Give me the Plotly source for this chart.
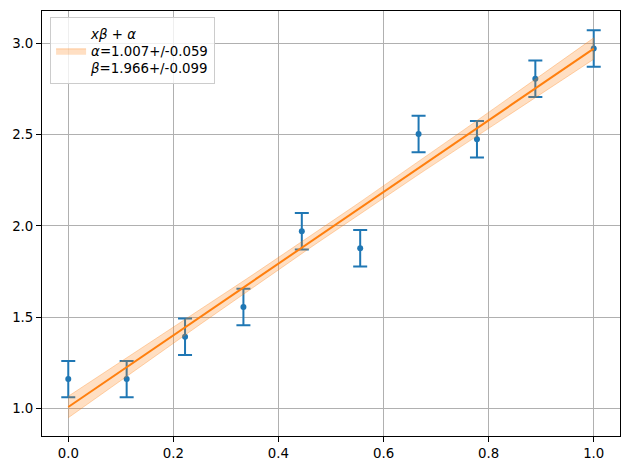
import numpy as np
import plotly.graph_objects as go

# data
x_data = [0.0, 1/9, 2/9, 3/9, 4/9, 5/9, 6/9, 7/9, 8/9, 1.0]
y_data = [1.160, 1.160, 1.392, 1.555, 1.971, 1.878, 2.504, 2.476, 2.808, 2.973]
y_err = [0.1] * 10

# fit parameters shown in the legend
alpha, alpha_err = 1.007, 0.059
beta, beta_err = 1.966, 0.099
x_ticks = [0.0, 0.2, 0.4, 0.6, 0.8, 1.0]
y_ticks = [1.0, 1.5, 2.0, 2.5, 3.0]

# covariance of the straight-line fit with the given errors
xd = np.array(x_data)
w = 1 / np.array(y_err) ** 2
A = np.vstack([np.ones_like(xd), xd]).T
cov = np.linalg.inv(A.T @ (A * w[:, None]))
s = np.sqrt(np.diag(cov))
corr = cov[0, 1] / (s[0] * s[1])
cov_ab = corr * alpha_err * beta_err

xf = np.linspace(0, 1, 60)
yf = alpha + beta * xf
sig = np.sqrt(alpha_err**2 + (xf * beta_err) ** 2 + 2 * xf * cov_ab)

blue = "#1f77b4"
orange = "#ff7f0e"
fs = 13.33

fig = go.Figure()
fig.add_trace(go.Scatter(
    x=x_data, y=y_data, mode="markers",
    marker=dict(color=blue, size=6),
    error_y=dict(type="data", array=y_err, visible=True, color=blue, thickness=2, width=7),
    showlegend=False,
))
fig.add_trace(go.Scatter(
    x=np.concatenate([xf, xf[::-1]]),
    y=np.concatenate([yf + sig, (yf - sig)[::-1]]),
    fill="toself", mode="lines",
    fillcolor="rgba(255,127,14,0.25)",
    line=dict(color="rgba(255,127,14,0.3)", width=1),
    name="<i>xβ</i> + <i>α</i><br><i>α</i>=1.007+/-0.059<br><i>β</i>=1.966+/-0.099",
    showlegend=True,
))
fig.add_trace(go.Scatter(
    x=xf, y=yf, mode="lines", line=dict(color=orange, width=2), showlegend=False,
))

axis_common = dict(
    showgrid=True, gridcolor="#b0b0b0", gridwidth=1,
    showline=True, linecolor="black", linewidth=1, mirror=True,
    ticks="outside", ticklen=5, tickcolor="black", tickwidth=1,
    zeroline=False,
    tickfont=dict(family="DejaVu Sans", size=fs, color="black"),
)
fig.update_xaxes(range=[-0.05, 1.05], tickvals=x_ticks,
                 ticktext=[f"{v:.1f}" for v in x_ticks], **axis_common)
fig.update_yaxes(range=[0.848, 3.179], tickvals=y_ticks,
                 ticktext=[f"{v:.1f}" for v in y_ticks], **axis_common)

fig.update_layout(
    width=630, height=470,
    margin=dict(l=42, r=10, t=11, b=34),
    plot_bgcolor="white", paper_bgcolor="white",
    font=dict(family="DejaVu Sans", size=fs, color="black"),
    legend=dict(
        x=0.014, y=0.985, xanchor="left", yanchor="top",
        bgcolor="rgba(255,255,255,0.8)", bordercolor="#cccccc", borderwidth=1,
        font=dict(family="DejaVu Sans", size=fs, color="black"),
        valign="middle",
    ),
)

fig.write_html("out.html")
